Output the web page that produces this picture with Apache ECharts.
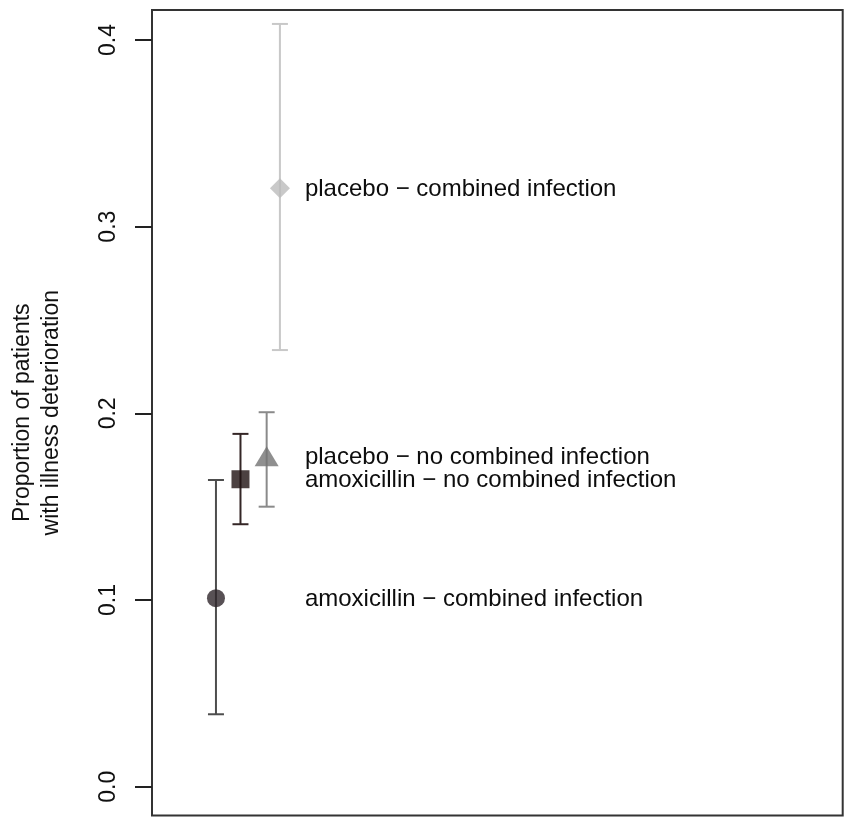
<!DOCTYPE html>
<html><head><meta charset="utf-8">
<script src="https://cdn.jsdelivr.net/npm/echarts@6/dist/echarts.min.js"></script>
<style>html,body{margin:0;padding:0;background:#fff}#c{width:847px;height:821px}</style>
</head><body><div id="c"></div>
<script>
// ---- data ----
const groups = ['amoxicillin − combined infection', 'amoxicillin − no combined infection', 'placebo − no combined infection', 'placebo − combined infection'];
const xPos = [0.926, 1.281, 1.66, 1.852];
const estimate = [0.101, 0.1647, 0.177, 0.3206];
const lower = [0.0388, 0.1406, 0.150, 0.2339];
const upper = [0.1643, 0.189, 0.2006, 0.4086];
const labelX = 2.214;
const yTicks = [0, 0.1, 0.2, 0.3, 0.4];
const yTickLabels = ['0.0', '0.1', '0.2', '0.3', '0.4'];
const yTitle = 'Proportion of patients\nwith illness deterioration';

// ---- styles ----
const FONT = "'Liberation Sans', Arial, sans-serif";
const symbols = ['circle', 'rect', 'triangle', 'diamond'];
const symbolSizes = [18, 18, [24, 20], [20, 20]];
const pointColors = ['#2e262b', '#1f1212', '#737373', '#bbbbbb'];
const barColors = ['#4d4d4d', '#342626', '#8a8a8a', '#c8c8c8'];

const chart = echarts.init(document.getElementById('c'), null, {renderer: 'canvas'});

const barData = xPos.map((x, i) => [x, lower[i], upper[i], i]);
const pointData = xPos.map((x, i) => ({
  value: [x, estimate[i]],
  symbol: symbols[i],
  symbolSize: symbolSizes[i],
  itemStyle: {color: pointColors[i]}
}));
const labelData = groups.map((g, i) => [labelX, estimate[i], i]);

chart.setOption({
  animation: false,
  grid: {left: 152, top: 10, right: 4.3, bottom: 5.5, show: true, borderColor: '#333', borderWidth: 2, backgroundColor: 'transparent', outerBoundsMode: 'none', containLabel: false},
  xAxis: {type: 'value', min: 0, max: 10, show: false},
  yAxis: {
    type: 'value', min: -0.01543, max: 0.41607,
    axisLine: {show: false},
    splitLine: {show: false},
    axisTick: {show: true, inside: false, length: 17, lineStyle: {color: '#222', width: 2}, customValues: yTicks},
    axisLabel: {
      show: true, rotate: 90, fontSize: 23, color: '#111', fontFamily: FONT, margin: 32,
      customValues: yTicks,
      formatter: v => { const k = yTicks.findIndex(t => Math.abs(t - v) < 1e-9); return k >= 0 ? yTickLabels[k] : ''; }
    },
    name: yTitle, nameLocation: 'middle', nameRotate: 90, nameGap: 86,
    nameTextStyle: {fontSize: 23, color: '#111', fontFamily: FONT, lineHeight: 29, align: 'center'}
  },
  series: [
    {
      type: 'custom', data: barData, z: 2,
      renderItem(params, api) {
        const x = api.value(0), lo = api.value(1), hi = api.value(2), i = api.value(3);
        const a = api.coord([x, lo]), b = api.coord([x, hi]);
        const w = 8;
        const style = {stroke: barColors[i], lineWidth: 2};
        return {type: 'group', children: [
          {type: 'line', shape: {x1: a[0], y1: a[1], x2: b[0], y2: b[1]}, style},
          {type: 'line', shape: {x1: a[0] - w, y1: a[1], x2: a[0] + w, y2: a[1]}, style},
          {type: 'line', shape: {x1: b[0] - w, y1: b[1], x2: b[0] + w, y2: b[1]}, style}
        ]};
      }
    },
    {type: 'scatter', data: pointData, z: 3},
    {
      type: 'custom', data: labelData, z: 4,
      renderItem(params, api) {
        const p = api.coord([api.value(0), api.value(1)]);
        return {type: 'text', x: p[0], y: p[1] + 1.5, style: {text: groups[api.value(2)], fill: '#0d0d0d', font: '24px ' + FONT, textAlign: 'left', textVerticalAlign: 'middle'}};
      }
    }
  ]
});
</script>
</body></html>
